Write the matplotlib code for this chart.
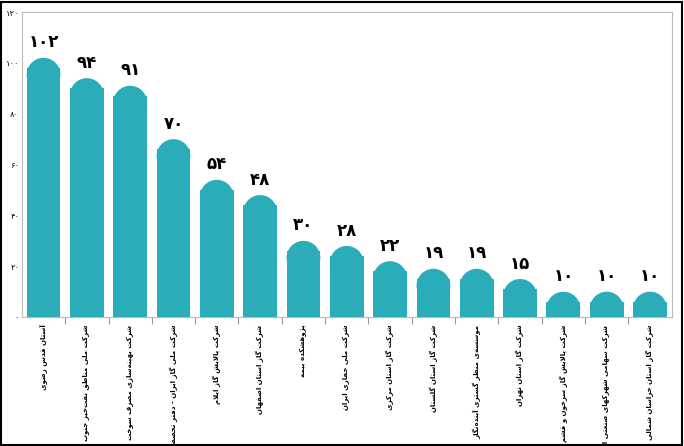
import matplotlib
matplotlib.use("Agg")
import matplotlib.pyplot as plt
from matplotlib.patches import Ellipse, Rectangle

labels = [
    "آستان قدس رضوی",
    "شرکت ملی مناطق نفت‌خیز جنوب",
    "شرکت بهینه‌سازی مصرف سوخت",
    "شرکت ملی گاز ایران - دفتر تخصصی",
    "شرکت پالایش گاز ایلام",
    "شرکت گاز استان اصفهان",
    "پژوهشکده بیمه",
    "شرکت ملی حفاری ایران",
    "شرکت گاز استان مرکزی",
    "شرکت گاز استان گلستان",
    "موسسه‌ی منظر گستری آینده‌نگار",
    "شرکت گاز استان تهران",
    "شرکت پالایش گاز سرخون و قشم",
    "شرکت سهامی شهرکهای صنعتی استان سمنان",
    "شرکت گاز استان خراسان شمالی",
]
values = [102, 94, 91, 70, 54, 48, 30, 28, 22, 19, 19, 15, 10, 10, 10]
yticks = [0, 20, 40, 60, 80, 100, 120]

# minimal arabic/persian shaping: (isolated, final, initial, medial)
FORMS = {
    "ا": (0xFE8D, 0xFE8E), "آ": (0xFE81, 0xFE82), "د": (0xFEA9, 0xFEAA),
    "ذ": (0xFEAB, 0xFEAC), "ر": (0xFEAD, 0xFEAE), "ز": (0xFEAF, 0xFEB0),
    "ژ": (0xFB8A, 0xFB8B), "و": (0xFEED, 0xFEEE),
}
for ch, base in [("ب", 0xFE8F), ("ت", 0xFE95), ("ث", 0xFE99), ("ج", 0xFE9D),
                 ("ح", 0xFEA1), ("خ", 0xFEA5), ("س", 0xFEB1), ("ش", 0xFEB5),
                 ("ص", 0xFEB9), ("ض", 0xFEBD), ("ط", 0xFEC1), ("ظ", 0xFEC5),
                 ("ع", 0xFEC9), ("غ", 0xFECD), ("ف", 0xFED1), ("ق", 0xFED5),
                 ("ل", 0xFEDD), ("م", 0xFEE1), ("ن", 0xFEE5), ("ه", 0xFEE9),
                 ("پ", 0xFB56), ("چ", 0xFB7A), ("ک", 0xFB8E), ("گ", 0xFB92),
                 ("ی", 0xFBFC)]:
    FORMS[ch] = (base, base + 1, base + 2, base + 3)


def shape(s):
    s = s.replace("\u200c", "\x00")
    out = []
    i = 0
    while i < len(s):
        c = s[i]
        if c not in FORMS:
            if c != "\x00":
                out.append(c)
            i += 1
            continue
        prev = s[i - 1] if i > 0 else ""
        jp = prev in FORMS and len(FORMS[prev]) == 4
        if c == "ل" and i + 1 < len(s) and s[i + 1] == "ا":
            out.append(chr(0xFEFC if jp else 0xFEFB))
            i += 2
            continue
        f = FORMS[c]
        nxt = s[i + 1] if i + 1 < len(s) else ""
        jn = len(f) == 4 and nxt in FORMS
        if jp and jn:
            g = f[3]
        elif jp:
            g = f[1]
        elif jn:
            g = f[2]
        else:
            g = f[0]
        out.append(chr(g))
        i += 1
    return "".join(out)[::-1]


def fa(n):
    return str(n).translate(str.maketrans("0123456789", "۰۱۲۳۴۵۶۷۸۹"))


color = "#2aadb8"
fig = plt.figure(figsize=(6.84, 4.46), dpi=100)
ax = fig.add_axes([0.032, 0.289, 0.95, 0.684])
w = 0.78
xs = range(len(values))
ax.set_xlim(-0.5, len(values) - 0.5)
ax.set_ylim(0, 120)
# radius in data units so caps look round
px_x = 0.95 * 684 / len(values)
px_y = 0.684 * 446 / 120
r_y = (w / 2) * px_x / px_y
for x, v in zip(xs, values):
    ax.add_patch(Rectangle((x - w / 2, 0), w, v - r_y * 0.6, color=color, lw=0))
    ax.add_patch(Ellipse((x, v - r_y), w, 2 * r_y, color=color, lw=0))
    ax.text(x, v + 2.5, fa(v), ha="center", va="bottom", fontsize=12,
            fontweight="bold", family="DejaVu Sans")
ax.set_yticks(yticks)
ax.set_yticklabels([fa(t) for t in yticks], fontsize=6)
ax.set_xticks([x + 0.5 for x in range(len(values) - 1)])
ax.set_xticklabels([])
ax.tick_params(axis="x", length=5, direction="out", color="#999999")
ax.tick_params(axis="y", length=0, pad=2)
for sp in ax.spines.values():
    sp.set_color("#bbbbbb")
for x, lab in zip(xs, labels):
    ax.text(x, -3, shape(lab), rotation=90, ha="center", va="top",
            fontsize=5, fontweight="bold", family="DejaVu Sans")
fig.add_artist(Rectangle((0.002, 0.003), 0.995, 0.993, fill=False,
                         ec="black", lw=1.5, transform=fig.transFigure))
fig.savefig("out.png", dpi=100)
